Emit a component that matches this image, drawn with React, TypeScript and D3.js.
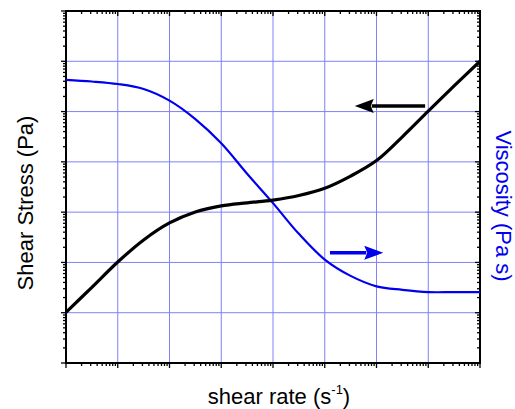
import React from "react";
import * as d3 from "d3";

const shearRate = [1, 3.16, 10, 31.6, 100, 316, 1e3, 3.16e3, 1e4, 3.16e4, 1e5, 3.16e5, 1e6, 3.16e6, 1e7, 3.16e7, 1e8];
const shearStress = [10.2, 32, 102, 280, 610, 1010, 1330, 1530, 1740, 2140, 2980, 5200, 10600, 31500, 102000, 324000, 1000000];
const viscosity = [427000, 396000, 353000, 281000, 165000, 70800, 23400, 5800, 1510, 370, 114, 54, 33.5, 28.5, 25.7, 25.7, 25.7];

const xDomain = [1, 1e8];
const yDomain = [1, 1e7];

// arrows: [xStart, xTip, y]
const stressArrow = [8.7e6, 3.8e5, 1.29e5];
const viscArrow = [1.26e5, 1.35e6, 155];

const W = 515, H = 409;
const L = 66, R = 480, T = 11, B = 363;
const FONT = "'Liberation Sans', Arial, Helvetica, sans-serif";

function logTicks(lo: number, hi: number) {
  const major: number[] = [];
  const minor: number[] = [];
  for (let e = Math.round(Math.log10(lo)); e <= Math.round(Math.log10(hi)); e++) {
    const b = Math.pow(10, e);
    major.push(b);
    if (b < hi) for (let m = 2; m <= 9; m++) minor.push(m * b);
  }
  return { major, minor };
}

export default function App() {
  const x = d3.scaleLog().domain(xDomain).range([L, R]);
  const y = d3.scaleLog().domain(yDomain).range([B, T]);
  const yR = d3.scaleLog().domain(yDomain).range([B, T]);
  const xt = logTicks(xDomain[0], xDomain[1]);
  const yt = logTicks(yDomain[0], yDomain[1]);

  const line = d3.line<number>().curve(d3.curveCatmullRom.alpha(0.5));
  const stressPath = line(shearRate.map((v, i) => [x(v), y(shearStress[i])] as any) as any);
  const viscPath = line(shearRate.map((v, i) => [x(v), yR(viscosity[i])] as any) as any);

  const grid = "#8080f8";
  const MJ = 5, MN = 3;

  const arrow = (a: number[], sc: any, color: string, shaftW: number) => {
    const xs = x(a[0]), xe = x(a[1]), yy = sc(a[2]);
    const dir = xe > xs ? 1 : -1;
    const hl = 19, hw = 7;
    const base = xe - dir * hl;
    return (
      <g>
        <line x1={xs} y1={yy} x2={base + dir * 2} y2={yy} stroke={color} strokeWidth={shaftW} />
        <path d={`M${xe},${yy} L${base},${yy - hw} L${base + dir * 3},${yy} L${base},${yy + hw} Z`} fill={color} />
      </g>
    );
  };

  return (
    <svg width={W} height={H} style={{ position: "absolute", left: 0, top: 0, background: "#fff" }}>
      {xt.major.slice(1, -1).map((v) => (
        <line key={"gx" + v} x1={x(v)} x2={x(v)} y1={T} y2={B} stroke={grid} strokeWidth={1} />
      ))}
      {yt.major.slice(1, -1).map((v) => (
        <line key={"gy" + v} x1={L} x2={R} y1={y(v)} y2={y(v)} stroke={grid} strokeWidth={1} />
      ))}
      <g stroke="#000" strokeWidth={1.3}>
        {xt.major.map((v) => (
          <g key={"xm" + v}>
            <line x1={x(v)} x2={x(v)} y1={B} y2={B + MJ} />
            <line x1={x(v)} x2={x(v)} y1={T} y2={T + MJ} />
          </g>
        ))}
        {xt.minor.map((v) => (
          <g key={"xn" + v}>
            <line x1={x(v)} x2={x(v)} y1={B} y2={B + MN} />
            <line x1={x(v)} x2={x(v)} y1={T} y2={T + MN} />
          </g>
        ))}
        {yt.major.map((v) => (
          <g key={"ym" + v}>
            <line x1={L - MJ} x2={L} y1={y(v)} y2={y(v)} />
            <line x1={R - MJ} x2={R} y1={yR(v)} y2={yR(v)} />
          </g>
        ))}
        {yt.minor.map((v) => (
          <g key={"yn" + v}>
            <line x1={L - MN} x2={L} y1={y(v)} y2={y(v)} />
            <line x1={R - MN} x2={R} y1={yR(v)} y2={yR(v)} />
          </g>
        ))}
      </g>
      <rect x={L} y={T} width={R - L} height={B - T} fill="none" stroke="#000" strokeWidth={2} />
      <path d={viscPath || ""} fill="none" stroke="#0000ee" strokeWidth={2.2} />
      <path d={stressPath || ""} fill="none" stroke="#000" strokeWidth={3.2} />
      {arrow(stressArrow, y, "#000", 3.5)}
      {arrow(viscArrow, yR, "#0000ee", 3.5)}
      <text x={279} y={404} textAnchor="middle" fontFamily={FONT} fontSize={22} fill="#000">
        shear rate (s<tspan fontSize={13} dy={-10}>-1</tspan><tspan dy={10}>)</tspan>
      </text>
      <text transform={`translate(33,203) rotate(-90)`} textAnchor="middle" fontFamily={FONT} fontSize={22} fill="#000">
        Shear Stress (Pa)
      </text>
      <text transform={`translate(496,206) rotate(90)`} textAnchor="middle" fontFamily={FONT} fontSize={22} fill="#0000ee">
        Viscosity (Pa s)
      </text>
    </svg>
  );
}
